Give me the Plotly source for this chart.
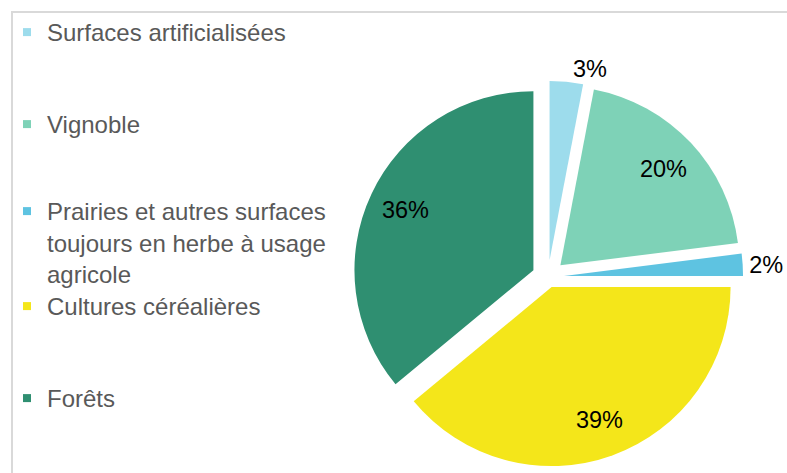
import plotly.graph_objects as go

# ---- data ----
categories = ["Surfaces artificialisées", "Vignoble",
              "Prairies et autres surfaces toujours en herbe à usage agricole",
              "Cultures céréalières", "Forêts"]
legend_labels = ["Surfaces artificialisées", "Vignoble",
                 "Prairies et autres surfaces<br>toujours en herbe à usage<br>agricole",
                 "Cultures céréalières", "Forêts"]
shares = [3, 20, 2, 39, 36]

# ---- style ----
colors = ["#9DDCEC", "#7ED2B7", "#5EC3E1", "#F4E61A", "#2F8F71"]
pulls = [0.095, 0.095, 0.09, 0.06, 0.09]
text_pos = ["outside", "inside", "outside", "inside", "inside"]
W, H = 787, 473
FONT = "Liberation Sans, Arial, sans-serif"
pie_domain = dict(x=[0.4473, 0.9453], y=[0.0, 0.8288])

fig = go.Figure()
# the slices
fig.add_trace(go.Pie(
    labels=categories, values=shares, sort=False, direction="clockwise", rotation=0,
    marker=dict(colors=colors, line=dict(width=0)),
    pull=pulls, textinfo="none", automargin=False,
    domain=pie_domain, showlegend=False, hoverinfo="label+percent",
))
# same pie, transparent, only used to place the percentage labels further out
fig.add_trace(go.Pie(
    labels=categories, values=shares, sort=False, direction="clockwise", rotation=0,
    marker=dict(colors=["rgba(0,0,0,0)"] * len(shares), line=dict(width=0)),
    pull=pulls, hole=0.58, textinfo="percent", textposition=text_pos,
    insidetextorientation="horizontal", automargin=False,
    textfont=dict(family=FONT, size=23.5, color="#000000"),
    domain=pie_domain, showlegend=False, hoverinfo="skip",
))

# legend entries (one legend per entry so the spacing can follow the original)
legend_tops = [32, 124, 211, 306, 398]
layout_legends = {}
for i, (lab, col) in enumerate(zip(legend_labels, colors)):
    key = "legend" if i == 0 else f"legend{i+1}"
    fig.add_trace(go.Scatter(
        x=[None], y=[None], mode="markers", name=lab,
        marker=dict(symbol="square", size=8, color=col),
        legend=key, showlegend=True, hoverinfo="skip",
    ))
    layout_legends[key] = dict(
        x=(47 - 40) / W, xanchor="left",
        y=1 - (legend_tops[i] - 22) / H, yanchor="top",
        bgcolor="rgba(0,0,0,0)", borderwidth=0, valign="top",
        font=dict(family=FONT, size=24, color="#595959"),
    )

fig.update_layout(
    width=W, height=H,
    margin=dict(l=0, r=0, t=0, b=0, autoexpand=False),
    paper_bgcolor="white", plot_bgcolor="white",
    xaxis=dict(visible=False), yaxis=dict(visible=False),
    shapes=[dict(type="rect", xref="paper", yref="paper",
                 x0=12 / W, y0=-0.2, x1=1.2, y1=1 - 12 / H,
                 line=dict(color="#D9D9D9", width=2), fillcolor="rgba(0,0,0,0)",
                 layer="below")],
    **layout_legends,
)

fig.write_html("out.html", config={"displayModeBar": False},
               post_script="document.body.style.margin='0';")
